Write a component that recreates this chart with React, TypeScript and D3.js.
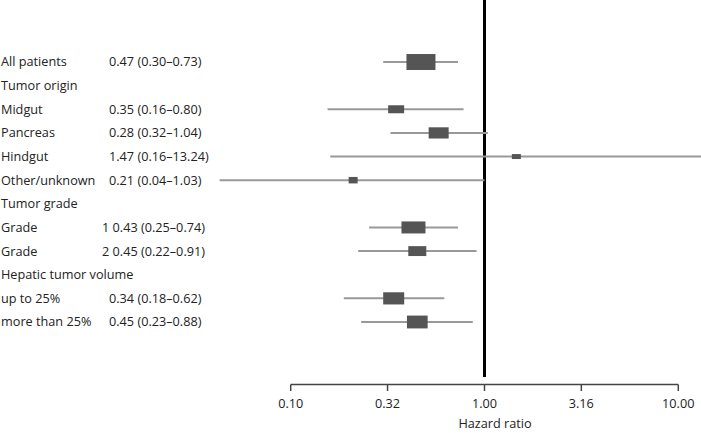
import React from "react";
import * as d3 from "d3";

const labels = [
  "All patients", "Tumor origin", "Midgut", "Pancreas", "Hindgut", "Other/unknown",
  "Tumor grade", "Grade", "Grade", "Hepatic tumor volume", "up to 25%", "more than 25%",
];
const estimates = [
  "0.47 (0.30–0.73)", "", "0.35 (0.16–0.80)", "0.28 (0.32–1.04)", "1.47 (0.16–13.24)", "0.21 (0.04–1.03)",
  "", "1 0.43 (0.25–0.74)", "2 0.45 (0.22–0.91)", "", "0.34 (0.18–0.62)", "0.45 (0.23–0.88)",
];
// plotted values (null = header row)
const hr: (number | null)[] = [0.47, null, 0.35, 0.58, 1.46, 0.21, null, 0.43, 0.45, null, 0.34, 0.45];
const lower: (number | null)[] = [0.30, null, 0.155, 0.327, 0.16, 0.043, null, 0.254, 0.223, null, 0.188, 0.231];
const upper: (number | null)[] = [0.73, null, 0.78, 1.04, 13.24, 1.0, null, 0.73, 0.91, null, 0.62, 0.87];
const weights: (number | null)[] = [29, null, 16, 20, 9, 9, null, 24, 18, null, 21, 20.7];
const boxRatio: (number | null)[] = [0.55, null, 0.5, 0.56, 0.55, 0.72, null, 0.5, 0.55, null, 0.58, 0.62];
const tickValues = [0.1, 0.316, 1, 3.16, 10];
const tickLabels = ["0.10", "0.32", "1.00", "3.16", "10.00"];
const axisTitle = "Hazard ratio";

const W = 701;
const H = 433;
const FONT = "'Open Sans', sans-serif";
const FS = 12.7;

export default function App() {
  const x = d3.scaleLog().domain([0.1, 10]).range([290.7, 678.3]);
  const y = d3.scalePoint<number>().domain(d3.range(labels.length)).range([62, 322]);
  const axisY = 384.5;
  const wScale = d3.scaleLinear().domain([0, 29]).range([0, 29]);

  return (
    <svg
      width={W}
      height={H}
      style={{ position: "absolute", left: 0, top: 0, display: "block" }}
      fontFamily={FONT}
    >
      <defs>
        <clipPath id="plotclip">
          <rect x={0} y={0} width={W} height={H} />
        </clipPath>
      </defs>
      <line x1={x(1)} x2={x(1)} y1={0} y2={377} stroke="#000" strokeWidth={3} />
      {labels.map((lab, i) => {
        const yy = y(i)!;
        const header = hr[i] === null;
        const est = estimates[i];
        return (
          <g key={i}>
            <text x={1} y={yy} dy="0.35em" fontSize={FS} fill="#222">
              {lab}
            </text>
            {est && (
              <text x={/^\d /.test(est) ? 102 : 109} y={yy} dy="0.35em" fontSize={FS} fill="#222">
                {est}
              </text>
            )}
            {!header && (
              <g clipPath="url(#plotclip)">
                <line
                  x1={x(lower[i]!)}
                  x2={Math.min(x(upper[i]!), W + 2)}
                  y1={yy}
                  y2={yy}
                  stroke="#999"
                  strokeWidth={2}
                />
                {(() => {
                  const bw = wScale(weights[i]!);
                  const bh = bw * boxRatio[i]!;
                  const cx = x(hr[i]!);
                  return <rect x={cx - bw / 2} y={yy - bh / 2} width={bw} height={bh} fill="#555" />;
                })()}
              </g>
            )}
          </g>
        );
      })}
      <line x1={x(0.1)} x2={x(10)} y1={axisY} y2={axisY} stroke="#444" strokeWidth={1.5} />
      {tickValues.map((t, i) => (
        <g key={t}>
          <line x1={x(t)} x2={x(t)} y1={axisY} y2={axisY + 6.5} stroke="#444" strokeWidth={1.5} />
          <text x={x(t)} y={axisY + 23} textAnchor="middle" fontSize={FS} fill="#222">
            {tickLabels[i]}
          </text>
        </g>
      ))}
      <text x={495} y={428} textAnchor="middle" fontSize={FS} fill="#222">
        {axisTitle}
      </text>
    </svg>
  );
}
